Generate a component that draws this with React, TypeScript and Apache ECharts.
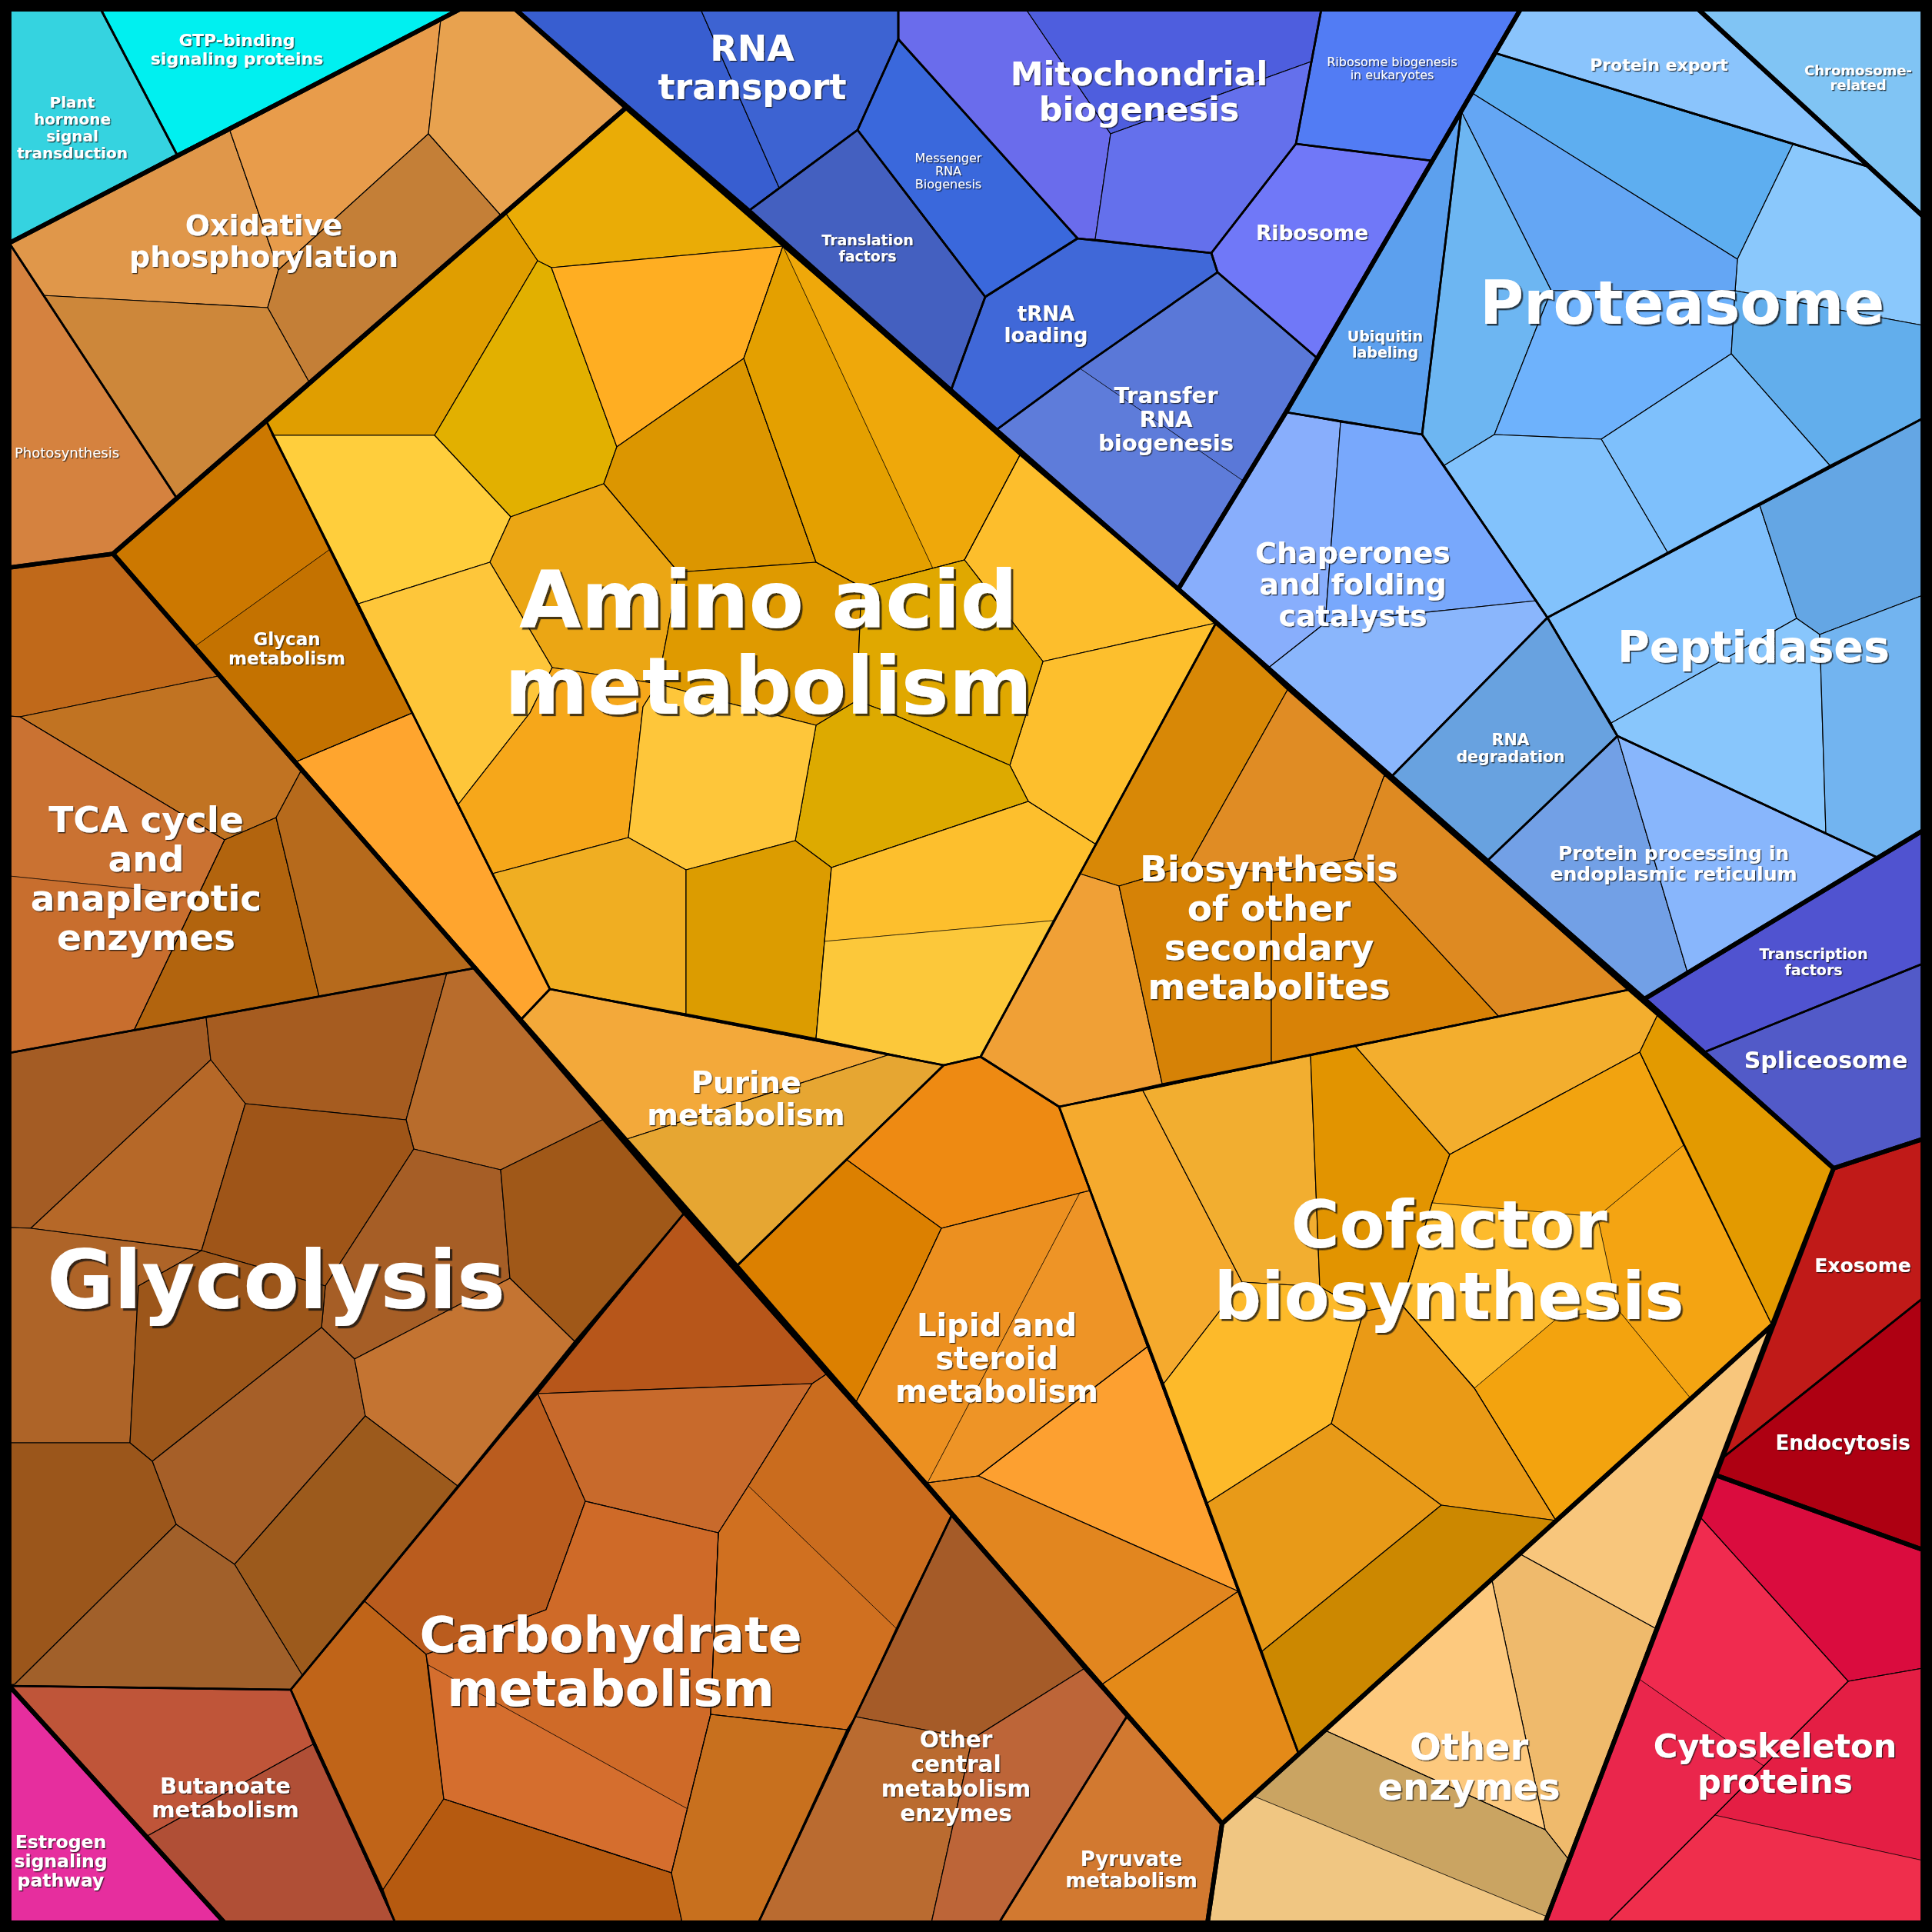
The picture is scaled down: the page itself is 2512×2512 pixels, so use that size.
import { useEffect, useRef } from "react";
import * as echarts from "echarts";

const SIZE = 2512;

// Voronoi treemap of functional categories. Every cell is a flat list
// [x0, y0, x1, y1, ...] in canvas units (origin top-left, y downward).

// ---------- Signaling ----------
const plantHormone = [12, 12, 131, 12, 230, 201, 12, 316];
const gtpBinding = [131, 12, 598, 12, 230, 201];
const signalingFills = ["#35D3E0", "#00F0F0"];
const signalingGroup = [12, 12, 598, 12, 12, 316];

// ---------- Energy ----------
const photosynthesis = [12, 316, 230, 648, 147, 720, 12, 738];
const oxphosParts = [
  [12, 316, 299, 170, 362, 351, 348, 400, 54, 384],
  [299, 170, 573, 26, 557, 174, 362, 351],
  [573, 26, 598, 12, 670, 12, 814, 140, 651, 280, 557, 174],
  [557, 174, 651, 280, 402, 497, 348, 400, 362, 351],
  [54, 384, 348, 400, 402, 497, 230, 648],
];
const oxphosFills = ["#E0974A", "#E89C4B", "#E8A24F", "#C47F37", "#CD873A"];
const oxphos = [12, 316, 598, 12, 670, 12, 814, 140, 230, 648];
const energyGroup = [12, 316, 598, 12, 670, 12, 814, 140, 147, 720, 12, 738];

// ---------- Genetic information processing ----------
const rnaTransportParts = [
  [670, 12, 911, 12, 1013, 244, 975, 273],
  [911, 12, 1168, 12, 1168, 51, 1115, 169, 1013, 244],
];
const rnaTransportFills = ["#385ED0", "#3D63D2"];
const rnaTransport = [670, 12, 1168, 12, 1168, 51, 1115, 169, 975, 273];
const messengerRna = [1168, 51, 1401, 310, 1281, 386, 1115, 169];
const translationFactors = [975, 273, 1115, 169, 1281, 386, 1237, 506];
const mitoParts = [
  [1168, 12, 1334, 12, 1444, 174, 1424, 311, 1401, 310, 1168, 51],
  [1334, 12, 1718, 12, 1705, 80, 1444, 174],
  [1444, 174, 1705, 80, 1685, 187, 1575, 329, 1424, 311],
];
const mitoFills = ["#6A6CEC", "#4E5EDE", "#6470EC"];
const mito = [1168, 12, 1718, 12, 1685, 187, 1575, 329, 1401, 310, 1168, 51];
const riboBiogenesis = [1718, 12, 1977, 12, 1862, 209, 1685, 187];
const ribosome = [1685, 187, 1862, 209, 1713, 466, 1583, 354, 1575, 329];
const trnaLoading = [1281, 386, 1401, 310, 1575, 329, 1583, 354, 1404, 479, 1294, 560, 1237, 506];
const transferRnaParts = [
  [1404, 479, 1583, 354, 1713, 466, 1672, 536, 1616, 625],
  [1404, 479, 1616, 625, 1532, 766, 1294, 560],
];
const transferRnaFills = ["#5A78D8", "#5E7CDA"];
const transferRna = [1404, 479, 1583, 354, 1713, 466, 1672, 536, 1532, 766, 1294, 560];
const geneticSingleFills = ["#3A68DC", "#4460C0", "#527CF4", "#7078F8", "#4068D8"];
const geneticGroup = [670, 12, 1977, 12, 1672, 536, 1532, 766];

// ---------- Protein fate ----------
const proteinExport = [1977, 12, 2208, 12, 2430, 217, 1944, 69];
const proteasomeParts = [
  [1944, 69, 2331, 188, 2259, 337, 1914, 121],
  [2331, 188, 2430, 217, 2500, 281, 2500, 423, 2256, 378, 2259, 337],
  [1914, 121, 2259, 337, 2256, 378, 2017, 378, 1900, 145],
  [1900, 145, 2017, 378, 1999, 423, 1943, 565, 1878, 605, 1849, 565],
  [2017, 378, 2256, 378, 2251, 460, 2082, 571, 1943, 565, 1999, 423],
  [2256, 378, 2500, 423, 2500, 544, 2379, 605, 2251, 460],
  [2082, 571, 2251, 460, 2379, 605, 2168, 718],
  [1878, 605, 1943, 565, 2082, 571, 2168, 718, 2012, 803],
];
const proteasomeFills = ["#5EAEF0", "#8AC8FC", "#64A6F4", "#6DB6F2", "#6EB2FC", "#62AEEC", "#7EC0FC", "#82C2FC"];
const proteasome = [1944, 69, 2430, 217, 2500, 281, 2500, 544, 2012, 803, 1849, 565, 1900, 145];
const ubiquitin = [1900, 145, 1849, 565, 1672, 536];
const chaperoneParts = [
  [1672, 536, 1743, 549, 1723, 810, 1647, 870, 1532, 766],
  [1743, 549, 1849, 565, 1998, 781, 1723, 810],
  [1723, 810, 1998, 781, 2012, 803, 1808, 1011, 1647, 870],
];
const chaperoneFills = ["#88AEFC", "#78A8FC", "#8AB6FC"];
const chaperones = [1672, 536, 1849, 565, 2012, 803, 1808, 1011, 1532, 766];
const rnaDegradation = [2012, 803, 2103, 957, 1933, 1120, 1808, 1011];
const erParts = [
  [1933, 1120, 2103, 957, 2194, 1264, 2138, 1299],
  [2103, 957, 2441, 1115, 2194, 1264],
];
const erFills = ["#72A0E6", "#88B6FC"];
const er = [1933, 1120, 2103, 957, 2441, 1115, 2138, 1299];
const peptidaseParts = [
  [2012, 803, 2288, 657, 2336, 804, 2095, 940],
  [2288, 657, 2500, 544, 2500, 774, 2366, 825, 2336, 804],
  [2095, 940, 2336, 804, 2366, 825, 2374, 1083, 2103, 957],
  [2366, 825, 2500, 774, 2500, 1080, 2441, 1115, 2374, 1083],
];
const peptidaseFills = ["#80C0FC", "#64A6E4", "#88C6FC", "#72B4F0"];
const peptidases = [2012, 803, 2500, 544, 2500, 1080, 2441, 1115, 2103, 957];
const proteinSingleFills = ["#8AC4FC", "#5CA0EE", "#68A2E0"];
const proteinGroup = [1977, 12, 2208, 12, 2500, 281, 2500, 1080, 2138, 1299, 1532, 766, 1672, 536];

const chromosome = [2208, 12, 2500, 12, 2500, 281];
const transcriptionFactors = [2138, 1299, 2500, 1080, 2500, 1253, 2216, 1368];
const spliceosome = [2216, 1368, 2500, 1253, 2500, 1481, 2384, 1519];
const transcriptionFills = ["#80C4F4", "#5053D0", "#525AC8"];
const transcriptionGroup = [2138, 1299, 2500, 1080, 2500, 1481, 2384, 1519];

// ---------- Amino acid / secondary / cofactor / lipid ----------
const glycanParts = [
  [147, 720, 347, 549, 428, 715, 254, 840],
  [254, 840, 428, 715, 490, 840, 536, 927, 386, 990],
  [386, 990, 536, 927, 715, 1286, 678, 1325],
];
const glycanFills = ["#CC7800", "#C47200", "#FFA52E"];
const glycanCore = [147, 720, 347, 549, 490, 840, 536, 927, 386, 990];
const glycan = [147, 720, 347, 549, 536, 927, 715, 1286, 678, 1325];

const aminoParts = [
  [658, 278, 814, 140, 1018, 320, 717, 348, 699, 339],
  [347, 549, 658, 278, 699, 339, 565, 566, 354, 566],
  [699, 339, 717, 348, 802, 581, 785, 629, 664, 672, 565, 566],
  [717, 348, 1018, 320, 967, 466, 802, 581],
  [802, 581, 967, 466, 1061, 731, 882, 744, 785, 629],
  [1018, 320, 1213, 739, 1120, 763, 1061, 731, 967, 466],
  [1018, 320, 1326, 592, 1254, 728, 1213, 739],
  [1254, 728, 1326, 592, 1581, 810, 1356, 860],
  [1356, 860, 1581, 810, 1425, 1098, 1337, 1042, 1313, 995],
  [354, 566, 565, 566, 664, 672, 637, 731, 466, 785],
  [637, 731, 664, 672, 785, 629, 882, 744, 868, 822, 855, 889, 718, 868],
  [466, 785, 637, 731, 718, 868, 689, 927, 595, 1047, 536, 927],
  [689, 927, 718, 868, 855, 889, 836, 919, 817, 1089, 640, 1136, 595, 1047],
  [882, 744, 1061, 731, 1120, 763, 1114, 911, 1061, 943, 935, 911, 855, 889, 868, 822],
  [1120, 763, 1254, 728, 1356, 860, 1313, 995, 1157, 927, 1114, 911],
  [1114, 911, 1157, 927, 1313, 995, 1337, 1042, 1081, 1128, 1034, 1093, 1061, 943],
  [836, 919, 855, 889, 935, 911, 1061, 943, 1034, 1093, 892, 1131, 817, 1089],
  [640, 1136, 817, 1089, 892, 1131, 892, 1318, 715, 1286],
  [892, 1131, 1034, 1093, 1081, 1128, 1072, 1224, 1061, 1350, 892, 1318],
  [1081, 1128, 1337, 1042, 1425, 1098, 1369, 1197, 1072, 1224],
  [1072, 1224, 1369, 1197, 1275, 1374, 1227, 1385, 1061, 1350],
];
const aminoFills = [
  "#EAAC06", "#E09E00", "#E2B000", "#FFAE22", "#DC9600", "#E4A000", "#EFA80A",
  "#FDBE2C", "#FDBF2D", "#FFCE3C", "#EBA614", "#FEC63A", "#F6A71A", "#DF9A00",
  "#E0A800", "#DDAA00", "#FEC63A", "#F0AE22", "#DC9C00", "#FDBF2D", "#FCC83A",
];
const aminoPairA = [1018, 320, 1326, 592, 1254, 728, 1120, 763, 1061, 731, 967, 466];
const aminoPairB = [1081, 1128, 1337, 1042, 1425, 1098, 1275, 1374, 1227, 1385, 1061, 1350, 1072, 1224];
const amino = [347, 549, 814, 140, 1581, 810, 1275, 1374, 1227, 1385, 715, 1286, 536, 927];

const purineParts = [
  [678, 1325, 715, 1286, 1157, 1371, 812, 1482],
  [812, 1482, 1157, 1371, 1227, 1385, 959, 1645],
];
const purineFills = ["#F3A93A", "#E6A632"];
const purine = [678, 1325, 715, 1286, 1227, 1385, 959, 1645];

const secondaryParts = [
  [1581, 810, 1674, 897, 1546, 1125, 1455, 1152, 1404, 1136],
  [1404, 1136, 1455, 1152, 1511, 1409, 1377, 1439, 1275, 1374],
  [1674, 897, 1800, 1008, 1760, 1117, 1653, 1135, 1546, 1125],
  [1800, 1008, 2117, 1287, 1948, 1321, 1760, 1117],
  [1455, 1152, 1546, 1125, 1653, 1135, 1653, 1381, 1511, 1409],
  [1653, 1135, 1760, 1117, 1948, 1321, 1653, 1381],
];
const secondaryFills = ["#D88806", "#F0A036", "#E08C24", "#DE8A22", "#D68206", "#D88206"];
const secondary = [1581, 810, 2117, 1287, 1377, 1439, 1275, 1374];

const lipidParts = [
  [1101, 1508, 1227, 1385, 1275, 1374, 1377, 1439, 1417, 1548, 1224, 1597],
  [959, 1645, 1101, 1508, 1224, 1597, 1187, 1676, 1112, 1825],
  [1224, 1597, 1404, 1551, 1206, 1928, 1112, 1825, 1187, 1676],
  [1404, 1551, 1417, 1548, 1492, 1751, 1272, 1919, 1206, 1928],
  [1492, 1751, 1610, 2069, 1272, 1919],
  [1206, 1928, 1272, 1919, 1610, 2069, 1433, 2190],
  [1433, 2190, 1610, 2069, 1688, 2279, 1589, 2371],
];
const lipidFills = ["#EE8A12", "#DC8000", "#EC9020", "#EE9426", "#FDA030", "#E2861F", "#E48A18"];
const lipidPair = [1224, 1597, 1417, 1548, 1492, 1751, 1272, 1919, 1206, 1928, 1112, 1825, 1187, 1676];
const lipid = [959, 1645, 1227, 1385, 1275, 1374, 1377, 1439, 1688, 2279, 1589, 2371];

const cofactorParts = [
  [1377, 1439, 1486, 1418, 1615, 1667, 1513, 1799],
  [1486, 1418, 1704, 1372, 1716, 1673, 1615, 1667],
  [1704, 1372, 1762, 1360, 1885, 1501, 1862, 1564, 1822, 1696, 1773, 1705, 1716, 1673],
  [1762, 1360, 2117, 1287, 2155, 1320, 2132, 1368, 1885, 1501],
  [1885, 1501, 2132, 1368, 2189, 1489, 2077, 1582, 1862, 1564],
  [2155, 1320, 2384, 1519, 2304, 1723, 2132, 1368],
  [2189, 1489, 2304, 1723, 2198, 1818, 2103, 1702, 2077, 1582],
  [1862, 1564, 2077, 1582, 2103, 1702, 2026, 1713, 1917, 1805, 1822, 1696],
  [1917, 1805, 2026, 1713, 2103, 1702, 2198, 1818, 2023, 1977],
  [1615, 1667, 1716, 1673, 1773, 1705, 1731, 1851, 1570, 1954, 1513, 1799],
  [1773, 1705, 1822, 1696, 1917, 1805, 2023, 1977, 1874, 1957, 1731, 1851],
  [1570, 1954, 1731, 1851, 1874, 1957, 1641, 2147],
  [1641, 2147, 1874, 1957, 2023, 1977, 1688, 2279],
];
const cofactorFills = [
  "#F5AA2E", "#F2AE30", "#E29400", "#F3AE2E", "#F2A30F", "#E39A00", "#F4A412",
  "#FDBB2D", "#F3A30E", "#FDBA2A", "#EA9A16", "#E89A18", "#CC8800",
];
const cofactorCluster = [1885, 1501, 2132, 1368, 2189, 1489, 2304, 1723, 2198, 1818, 2023, 1977, 1917, 1805, 1822, 1696, 1862, 1564];
const cofactor = [1377, 1439, 2117, 1287, 2384, 1519, 2304, 1723, 1688, 2279];
const metabolismGroup = [814, 140, 1532, 766, 2138, 1299, 2384, 1519, 2304, 1723, 1589, 2371, 147, 720];

// ---------- Central carbon metabolism ----------
const tcaParts = [
  [12, 738, 147, 720, 284, 879, 26, 932, 12, 931],
  [26, 932, 284, 879, 391, 1003, 359, 1063, 292, 1092],
  [12, 931, 26, 932, 292, 1092, 258, 1164, 12, 1139],
  [12, 1139, 258, 1164, 174, 1340, 12, 1369],
  [292, 1092, 359, 1063, 415, 1296, 174, 1340],
  [359, 1063, 391, 1003, 616, 1259, 415, 1296],
];
const tcaFills = ["#C0691A", "#C17322", "#CA7232", "#C86E2E", "#B2640E", "#B66A1C"];
const tcaPair = [12, 931, 26, 932, 292, 1092, 174, 1340, 12, 1369];
const tca = [12, 738, 147, 720, 616, 1259, 12, 1369];

const glycolysisParts = [
  [12, 1369, 268, 1323, 274, 1378, 40, 1597, 12, 1596],
  [268, 1323, 581, 1265, 528, 1456, 319, 1435, 274, 1378],
  [581, 1265, 616, 1259, 785, 1455, 651, 1521, 538, 1494, 528, 1456],
  [40, 1597, 274, 1378, 319, 1435, 262, 1626],
  [319, 1435, 528, 1456, 538, 1494, 423, 1672, 262, 1626],
  [538, 1494, 651, 1521, 663, 1662, 461, 1767, 418, 1726, 423, 1672],
  [651, 1521, 785, 1455, 889, 1578, 747, 1744, 663, 1662],
  [12, 1596, 40, 1597, 262, 1626, 180, 1672, 169, 1876, 12, 1876],
  [180, 1672, 262, 1626, 423, 1672, 418, 1726, 198, 1900, 169, 1876],
  [198, 1900, 418, 1726, 461, 1767, 475, 1841, 305, 2034, 229, 1982],
  [461, 1767, 663, 1662, 747, 1744, 595, 1932, 475, 1841],
  [475, 1841, 595, 1932, 393, 2178, 305, 2034],
  [12, 1876, 169, 1876, 198, 1900, 229, 1982, 19, 2190, 12, 2190],
  [229, 1982, 305, 2034, 393, 2178, 378, 2197, 12, 2192, 19, 2190],
];
const glycolysisFills = [
  "#A45C24", "#A65C20", "#B86C2C", "#B66828", "#9F5518", "#A65E26", "#A05818",
  "#AE6428", "#9C561A", "#A65F28", "#C47432", "#9C5A1C", "#9B561B", "#A1602A",
];
const glycolysis = [12, 1369, 616, 1259, 889, 1578, 378, 2197, 12, 2192];

const carbohydrateParts = [
  [889, 1578, 1074, 1787, 1056, 1799, 699, 1812],
  [699, 1812, 1056, 1799, 973, 1932, 934, 1993, 761, 1952],
  [973, 1932, 1056, 1799, 1074, 1787, 1238, 1969, 1165, 2117],
  [934, 1993, 973, 1932, 1165, 2117, 1112, 2232, 1101, 2249, 924, 2229],
  [595, 1932, 699, 1812, 761, 1952, 710, 2093, 554, 2151, 474, 2082],
  [378, 2197, 474, 2082, 554, 2151, 577, 2339, 498, 2457],
  [554, 2151, 710, 2093, 761, 1952, 934, 1993, 924, 2229, 894, 2352, 557, 2165],
  [557, 2165, 894, 2352, 873, 2435, 577, 2339],
  [498, 2457, 577, 2339, 873, 2435, 887, 2500, 514, 2500],
  [873, 2435, 924, 2229, 1101, 2249, 986, 2500, 887, 2500],
];
const carbohydrateFills = ["#B7561A", "#C86A2C", "#CA6C1E", "#D07020", "#BA5C1E", "#C06418", "#CF6A28", "#D56E2E", "#B65A10", "#C8701E"];
const carbohydratePairA = [934, 1993, 973, 1932, 1056, 1799, 1074, 1787, 1238, 1969, 1112, 2232, 1101, 2249, 924, 2229];
const carbohydratePairB = [554, 2151, 710, 2093, 761, 1952, 934, 1993, 924, 2229, 873, 2435, 577, 2339];
const carbohydrate = [889, 1578, 1238, 1969, 1112, 2232, 986, 2500, 514, 2500, 378, 2197];

const otherCentralParts = [
  [1238, 1969, 1409, 2170, 1264, 2261, 1112, 2232],
  [1112, 2232, 1264, 2261, 1211, 2500, 986, 2500],
  [1264, 2261, 1409, 2170, 1465, 2232, 1299, 2500, 1211, 2500],
];
const otherCentralFills = ["#A55B28", "#BA6B30", "#BD6538"];
const otherCentral = [1238, 1969, 1465, 2232, 1299, 2500, 986, 2500, 1112, 2232];
const pyruvate = [1465, 2232, 1589, 2371, 1570, 2500, 1299, 2500];
const butanoateParts = [
  [12, 2192, 378, 2197, 407, 2268, 190, 2388],
  [190, 2388, 407, 2268, 514, 2500, 292, 2500],
];
const butanoateFills = ["#BF5539", "#B04F36"];
const butanoate = [12, 2192, 378, 2197, 514, 2500, 292, 2500];
const centralGroup = [12, 738, 147, 720, 1589, 2371, 1570, 2500, 292, 2500, 12, 2192];

const estrogen = [12, 2192, 292, 2500, 12, 2500];
const singleFills = ["#D27930", "#E62E9E"];

// ---------- Other enzymes ----------
const otherEnzymeParts = [
  [2304, 1723, 2152, 2117, 1977, 2021],
  [1940, 2055, 1977, 2021, 2152, 2117, 2039, 2417, 2009, 2379],
  [1723, 2250, 1940, 2055, 2009, 2379],
  [1629, 2335, 1723, 2250, 2009, 2379, 2039, 2417, 2011, 2492],
  [1589, 2371, 1629, 2335, 2011, 2492, 2009, 2500, 1570, 2500],
];
const otherEnzymeFills = ["#F8C67C", "#EFBA6C", "#FDC97E", "#CAA462", "#F0C682"];
const otherEnzymePair = [1589, 2371, 1723, 2250, 2009, 2379, 2039, 2417, 2009, 2500, 1570, 2500];
const otherEnzymes = [1589, 2371, 2304, 1723, 2009, 2500, 1570, 2500];

// ---------- Cellular processes ----------
const exosome = [2384, 1519, 2500, 1481, 2500, 1688, 2238, 1897];
const endocytosis = [2238, 1897, 2500, 1688, 2500, 2015, 2231, 1918];
const vesicleFills = ["#C01A18", "#AE0012"];
const vesicleGroup = [2384, 1519, 2500, 1481, 2500, 2015, 2231, 1918];
const cytoskeletonParts = [
  [2231, 1918, 2500, 2015, 2500, 2169, 2403, 2186, 2210, 1972],
  [2210, 1972, 2403, 2186, 2293, 2296, 2131, 2183],
  [2131, 2183, 2293, 2296, 2229, 2360, 2090, 2500, 2009, 2500],
  [2403, 2186, 2500, 2169, 2500, 2419, 2229, 2360, 2293, 2296],
  [2229, 2360, 2500, 2419, 2500, 2500, 2090, 2500],
];
const cytoskeletonFills = ["#DA0C3E", "#F02B4F", "#EA264C", "#E41E44", "#EF2E4C"];
const cytoskeletonPairA = [2210, 1972, 2403, 2186, 2090, 2500, 2009, 2500];
const cytoskeletonPairB = [2403, 2186, 2500, 2169, 2500, 2500, 2090, 2500];
const cytoskeleton = [2231, 1918, 2500, 2015, 2500, 2500, 2009, 2500];

// ---------- Category labels ----------
type Label = { t: string; x: number; y: number; s: number; r?: boolean };
const labels: Label[] = [
  { t: "Plant\nhormone\nsignal\ntransduction", x: 94, y: 166, s: 20 },
  { t: "GTP-binding\nsignaling proteins", x: 308, y: 64, s: 22 },
  { t: "Oxidative\nphosphorylation", x: 343, y: 313, s: 38 },
  { t: "Photosynthesis", x: 87, y: 588, s: 18, r: true },
  { t: "Glycan\nmetabolism", x: 373, y: 843, s: 23 },
  { t: "Amino acid\nmetabolism", x: 999, y: 836, s: 104 },
  { t: "Purine\nmetabolism", x: 970, y: 1428, s: 39 },
  { t: "Biosynthesis\nof other\nsecondary\nmetabolites", x: 1650, y: 1206, s: 47 },
  { t: "Lipid and\nsteroid\nmetabolism", x: 1296, y: 1766, s: 40 },
  { t: "Cofactor\nbiosynthesis", x: 1884, y: 1638, s: 86 },
  { t: "TCA cycle\nand\nanaplerotic\nenzymes", x: 190, y: 1142, s: 47 },
  { t: "Glycolysis", x: 359, y: 1664, s: 106 },
  { t: "Carbohydrate\nmetabolism", x: 794, y: 2160, s: 64.5 },
  { t: "Butanoate\nmetabolism", x: 293, y: 2337, s: 29 },
  { t: "Estrogen\nsignaling\npathway", x: 79, y: 2420, s: 23.5 },
  { t: "Other\ncentral\nmetabolism\nenzymes", x: 1243, y: 2310, s: 29.5 },
  { t: "Pyruvate\nmetabolism", x: 1471, y: 2431, s: 26 },
  { t: "Other\nenzymes", x: 1910, y: 2297, s: 48 },
  { t: "Exosome", x: 2422, y: 1645, s: 25 },
  { t: "Endocytosis", x: 2396, y: 1876, s: 26 },
  { t: "Cytoskeleton\nproteins", x: 2308, y: 2293, s: 43 },
  { t: "Transcription\nfactors", x: 2358, y: 1250, s: 19 },
  { t: "Spliceosome", x: 2374, y: 1378, s: 30 },
  { t: "Chromosome-\nrelated", x: 2416, y: 101, s: 18 },
  { t: "Protein export", x: 2157, y: 84, s: 22 },
  { t: "Proteasome", x: 2187, y: 394, s: 78 },
  { t: "Ubiquitin\nlabeling", x: 1801, y: 447, s: 19 },
  { t: "Chaperones\nand folding\ncatalysts", x: 1759, y: 760, s: 38 },
  { t: "Peptidases", x: 2280, y: 841, s: 57 },
  { t: "RNA\ndegradation", x: 1964, y: 973, s: 20.5 },
  { t: "Protein processing in\nendoplasmic reticulum", x: 2176, y: 1123, s: 25 },
  { t: "RNA\ntransport", x: 978, y: 88, s: 46 },
  { t: "Messenger\nRNA\nBiogenesis", x: 1233, y: 222, s: 16, r: true },
  { t: "Translation\nfactors", x: 1128, y: 322, s: 19 },
  { t: "tRNA\nloading", x: 1360, y: 422, s: 26 },
  { t: "Transfer\nRNA\nbiogenesis", x: 1516, y: 545, s: 29 },
  { t: "Mitochondrial\nbiogenesis", x: 1481, y: 119, s: 43 },
  { t: "Ribosome biogenesis\nin eukaryotes", x: 1810, y: 89, s: 16, r: true },
  { t: "Ribosome", x: 1706, y: 302, s: 26.5 },
];

// ---------- Assembly ----------
type Poly = number[];
type Leaf = { p: Poly; fill: string; hair: boolean };
const leavesOf = (polys: Poly[], fills: string[], hair: number[] = []): Leaf[] =>
  polys.map((p, i) => ({ p, fill: fills[i], hair: hair.includes(i) }));

const leaves: Leaf[] = [
  ...leavesOf([plantHormone, gtpBinding], signalingFills),
  ...leavesOf(oxphosParts, oxphosFills),
  ...leavesOf([photosynthesis], ["#D5823F"]),
  ...leavesOf(rnaTransportParts, rnaTransportFills),
  ...leavesOf([messengerRna, translationFactors, riboBiogenesis, ribosome, trnaLoading], geneticSingleFills),
  ...leavesOf(mitoParts, mitoFills),
  ...leavesOf(transferRnaParts, transferRnaFills, [0, 1]),
  ...leavesOf([proteinExport, ubiquitin, rnaDegradation], proteinSingleFills),
  ...leavesOf(proteasomeParts, proteasomeFills),
  ...leavesOf(chaperoneParts, chaperoneFills),
  ...leavesOf(erParts, erFills),
  ...leavesOf(peptidaseParts, peptidaseFills),
  ...leavesOf([chromosome, transcriptionFactors, spliceosome], transcriptionFills),
  ...leavesOf(glycanParts, glycanFills, [0, 1]),
  ...leavesOf(aminoParts, aminoFills, [5, 6, 19, 20]),
  ...leavesOf(purineParts, purineFills),
  ...leavesOf(secondaryParts, secondaryFills),
  ...leavesOf(lipidParts, lipidFills, [2, 3]),
  ...leavesOf(cofactorParts, cofactorFills, [4, 6, 7, 8]),
  ...leavesOf(tcaParts, tcaFills, [2, 3]),
  ...leavesOf(glycolysisParts, glycolysisFills),
  ...leavesOf(carbohydrateParts, carbohydrateFills, [2, 3, 6, 7]),
  ...leavesOf(otherCentralParts, otherCentralFills),
  ...leavesOf([pyruvate, estrogen], singleFills),
  ...leavesOf(butanoateParts, butanoateFills),
  ...leavesOf(otherEnzymeParts, otherEnzymeFills, [3, 4]),
  ...leavesOf([exosome, endocytosis], vesicleFills),
  ...leavesOf(cytoskeletonParts, cytoskeletonFills, [1, 2, 3, 4]),
];

// groups of cells that are split by hairlines only
const clusters: Poly[] = [
  glycanCore, aminoPairA, aminoPairB, lipidPair, cofactorCluster, tcaPair,
  carbohydratePairA, carbohydratePairB, otherEnzymePair, cytoskeletonPairA, cytoskeletonPairB,
];

const categories: Poly[] = [
  plantHormone, gtpBinding, oxphos, photosynthesis,
  rnaTransport, messengerRna, translationFactors, mito, riboBiogenesis, ribosome, trnaLoading, transferRna,
  proteinExport, proteasome, ubiquitin, chaperones, rnaDegradation, er, peptidases,
  chromosome, transcriptionFactors, spliceosome,
  glycan, amino, purine, secondary, lipid, cofactor,
  tca, glycolysis, carbohydrate, otherCentral, pyruvate, butanoate, estrogen,
  otherEnzymes, exosome, endocytosis, cytoskeleton,
];

const groups: Poly[] = [
  signalingGroup, energyGroup, geneticGroup, proteinGroup, chromosome, transcriptionGroup,
  metabolismGroup, centralGroup, estrogen, otherEnzymes, vesicleGroup, cytoskeleton,
];

const toPairs = (p: Poly): number[][] => {
  const out: number[][] = [];
  for (let i = 0; i < p.length; i += 2) out.push([p[i], p[i + 1]]);
  return out;
};
const centroid = (p: Poly): number[] => {
  let x = 0, y = 0;
  const n = p.length / 2;
  for (let i = 0; i < p.length; i += 2) { x += p[i]; y += p[i + 1]; }
  return [x / n, y / n];
};

function polygonSeries(
  polys: Poly[],
  fillOf: (i: number) => string,
  widthOf: (i: number) => number,
  z: number,
) {
  return {
    type: "custom",
    coordinateSystem: "cartesian2d",
    silent: true,
    clip: false,
    z,
    data: polys.map((p, i) => [...centroid(p), i]),
    renderItem: (params: any, api: any) => {
      const i = params.dataIndex;
      const pts = toPairs(polys[i]).map((pt) => api.coord(pt));
      return {
        type: "polygon",
        shape: { points: pts },
        style: {
          fill: fillOf(i),
          stroke: "#000",
          lineWidth: widthOf(i),
          lineJoin: "round",
        },
      };
    },
  };
}

export default function App() {
  const ref = useRef<HTMLDivElement>(null);

  useEffect(() => {
    document.body.style.margin = "0";
    const el = ref.current;
    if (!el) return;
    const chart = echarts.init(el, null, { renderer: "svg" });

    const leafPolys = leaves.map((l) => l.p);

    chart.setOption({
      animation: false,
      backgroundColor: "#000",
      grid: { left: 0, right: 0, top: 0, bottom: 0 },
      xAxis: { type: "value", min: 0, max: SIZE, show: false },
      yAxis: { type: "value", min: 0, max: SIZE, inverse: true, show: false },
      series: [
        polygonSeries(leafPolys, (i) => leaves[i].fill, (i) => (leaves[i].hair ? 0.6 : 1.2), 1),
        polygonSeries(clusters, () => "none", () => 1.2, 2),
        polygonSeries(categories, () => "none", () => 2.7, 3),
        polygonSeries(groups, () => "none", () => 5.8, 4),
        {
          type: "custom",
          coordinateSystem: "cartesian2d",
          silent: true,
          clip: false,
          z: 10,
          data: labels.map((l, i) => [l.x, l.y, i]),
          renderItem: (params: any, api: any) => {
            const l = labels[params.dataIndex];
            const [x, y] = api.coord([api.value(0), api.value(1)]);
            const off = Math.max(1.3, l.s * 0.03);
            return {
              type: "text",
              x,
              y,
              style: {
                text: l.t,
                fill: "#FFFFFF",
                fontSize: l.s,
                fontWeight: l.r ? "normal" : "bold",
                fontFamily: "DejaVu Sans",
                align: "center",
                verticalAlign: "middle",
                lineHeight: Math.round(l.s * 1.08),
                textShadowColor: "rgba(20,20,20,0.75)",
                textShadowBlur: 1,
                textShadowOffsetX: off,
                textShadowOffsetY: off,
              },
            };
          },
        },
      ],
    });

    return () => chart.dispose();
  }, []);

  return (
    <div
      ref={ref}
      style={{ position: "absolute", left: 0, top: 0, width: SIZE, height: SIZE }}
    />
  );
}
